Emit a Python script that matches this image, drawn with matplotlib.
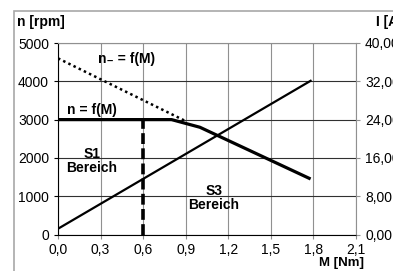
import matplotlib.pyplot as plt
from matplotlib.patches import Rectangle

# speed curve n = f(M)
m_speed = [0.0, 0.8, 1.0, 1.78]
n_speed = [3000, 3000, 2800, 1450]

# no-load speed curve (dotted)
m_idle = [0.0, 0.9]
n_idle = [4600, 2960]

# current I = f(M) on right axis
m_curr = [0.0, 1.78]
i_curr = [1.2, 32.1]

# S1 boundary
m_s1 = 0.6
n_s1 = 3000

x_ticks = [0.0, 0.3, 0.6, 0.9, 1.2, 1.5, 1.8, 2.1]
y_ticks = [0, 1000, 2000, 3000, 4000, 5000]
i_ticks = [0, 8, 16, 24, 32, 40]

plt.rcParams['font.family'] = ['Liberation Sans', 'DejaVu Sans']
plt.rcParams['font.size'] = 10

fig = plt.figure(figsize=(3.93, 2.71), dpi=100)
ax = fig.add_axes([58 / 393, 36.5 / 271, 298 / 393, 191.5 / 271])

# outer gray frame
fig.patches.append(Rectangle((13.5 / 393, -0.05), 1.0, 1.05 - 10.5 / 271,
                             transform=fig.transFigure, fill=False,
                             edgecolor='#a8a8a8', linewidth=1.2))

ax.set_xlim(0, 2.1)
ax.set_ylim(0, 5000)
ax.set_xticks(x_ticks)
ax.set_xticklabels([f"{v:.1f}".replace('.', ',') for v in x_ticks])
ax.set_yticks(y_ticks)
ax.grid(axis='y', color='#303030', linewidth=0.8)
ax.grid(axis='x', color='#909090', linewidth=0.8)
ax.set_axisbelow(True)
for s in ['top', 'right']:
    ax.spines[s].set_color('#909090')
ax.spines['left'].set_color('black')
ax.spines['bottom'].set_color('black')
ax.tick_params(axis='x', colors='#909090', labelcolor='black', length=3, pad=3)
ax.tick_params(axis='y', length=3)

ax.plot(m_idle, n_idle, color='black', linestyle=(0, (1, 1.3)), linewidth=1.8)
ax.plot(m_speed, n_speed, color='black', linewidth=2.3, solid_capstyle='butt')
ax.plot([m_s1, m_s1], [0, n_s1], color='black', linewidth=2.6,
        linestyle=(0, (3, 1.2)))

ax2 = ax.twinx()
ax2.set_ylim(0, 40)
ax2.set_yticks(i_ticks)
ax2.set_yticklabels([f"{v:.2f}".replace('.', ',') for v in i_ticks])
ax2.tick_params(axis='y', colors='#909090', labelcolor='black', length=3)
for s in ax2.spines.values():
    s.set_visible(False)
ax2.plot(m_curr, i_curr, color='black', linewidth=1.6)

bold = dict(fontweight='bold', fontsize=10)
ax.text(0.064, 3250, "n = f(M)", va='center', ha='left', **bold)
ax.text(0.28, 4580, "n\u208b = f(M)", va='center', ha='left', **bold)
ax.text(0.24, 1930, "S1\nBereich", va='center', ha='center', linespacing=1.0, **bold)
ax.text(1.10, 950, "S3\nBereich", va='center', ha='center', linespacing=1.0, **bold)

fig.text(17 / 393, 1 - 22 / 271, "n [rpm]", va='center', ha='left', **bold)
fig.text(376 / 393, 1 - 22 / 271, "I [A]", va='center', ha='left', **bold)
fig.text(364 / 393, 2 / 271, "M [Nm]", va='bottom', ha='right',
         fontweight='bold', fontsize=9.5)

fig.savefig('out.png', dpi=100)
